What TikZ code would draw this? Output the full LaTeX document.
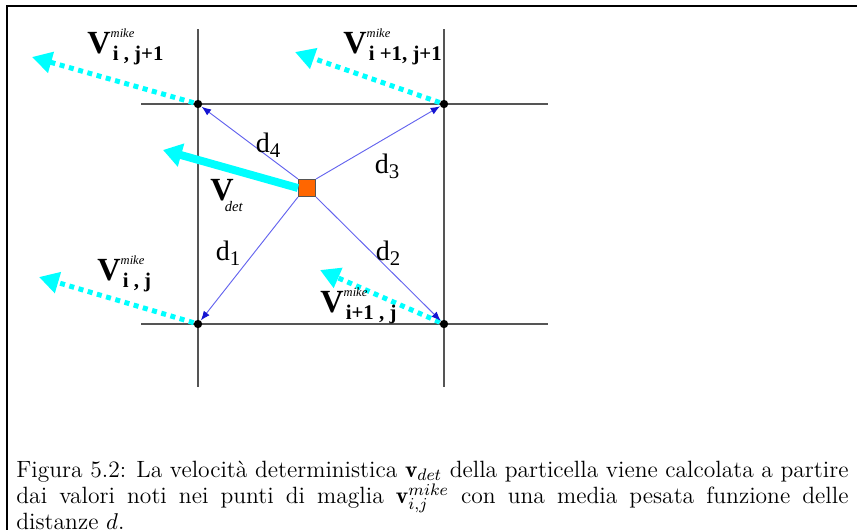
\documentclass[tikz,border=0pt]{standalone}
\usepackage{fontspec}
\newfontfamily\lblfont{Liberation Serif}
\usetikzlibrary{arrows.meta}
\definecolor{vcyan}{HTML}{00FFFF}
\definecolor{dblue}{HTML}{6464EE}
\definecolor{tipblue}{HTML}{1414D2}
\definecolor{partorange}{HTML}{FF6600}
\definecolor{gridgray}{HTML}{555555}
\newcommand{\vmk}[1]{{\fontsize{15.5}{15.5}\selectfont\bfseries V}\rlap{\raisebox{7.4pt}{\fontsize{6}{6}\selectfont\itshape mike}}\kern1pt\raisebox{-3.8pt}{\fontsize{10}{10}\selectfont\bfseries #1}}
\newcommand{\dlbl}[1]{{\fontsize{13.5}{13.5}\selectfont d}\raisebox{-2.5pt}{\fontsize{10}{10}\selectfont #1}}
\tikzset{
  gridline/.style={draw=gridgray, line width=0.7pt},
  meshpt/.style={circle, fill=black, inner sep=0pt, minimum size=4pt},
  distarr/.style={-{Latex[length=4.5pt,width=3.5pt,color=tipblue]}, draw=dblue, line width=0.45pt},
  mikearr/.style={-{Triangle[length=9.5pt,width=10pt]}, draw=vcyan, line width=2.4pt,
                  dash pattern=on 2.4pt off 2.2pt},
  detarr/.style={-{Triangle[length=9pt,width=11pt]}, draw=vcyan, line width=3.8pt},
  lbl/.style={inner sep=0pt, anchor=base west, font=\lblfont},
}
\begin{document}
\begin{tikzpicture}[x=0.48pt, y=-0.48pt]
  \useasboundingbox (0,0) rectangle (857,530);
  \clip (0,0) rectangle (857,530);
  % cornice della figura
  \draw[line width=0.8pt] (857,6) -- (7,6) -- (7,530);
  % maglia
  \draw[gridline] (198,29) -- (198,387);
  \draw[gridline] (444,29) -- (444,387);
  \draw[gridline] (141,104) -- (548,104);
  \draw[gridline] (141,324) -- (548,324);
  \node[meshpt] (g01) at (198,104) {};
  \node[meshpt] (g11) at (444,104) {};
  \node[meshpt] (g00) at (198,324) {};
  \node[meshpt] (g10) at (444,324) {};
  % particella
  \node[rectangle, fill=partorange, draw=gridgray, line width=0.5pt, minimum size=8.2pt, inner sep=0pt] (sq) at (307,188) {};
  % punte delle velocita
  \coordinate (t01) at (32,57);
  \coordinate (t11) at (295,52);
  \coordinate (t00) at (39,277);
  \coordinate (t10) at (320,270);
  \coordinate (tdet) at (163,150);
  \draw[mikearr] (g01) -- (t01);
  \draw[mikearr] (g11) -- (t11);
  \draw[mikearr] (g00) -- (t00);
  \draw[mikearr] (g10) -- (t10);
  \draw[detarr] (sq.west) -- (tdet);
  % distanze
  \draw[distarr] (sq.north west) -- (g01);
  \draw[distarr] (sq.north east) -- (g11);
  \draw[distarr] (sq.south west) -- (g00);
  \draw[distarr] (sq.south east) -- (g10);
  \node[lbl, anchor=center] (d4) at (268,145) {\dlbl{4}};
  \node[lbl, anchor=center] (d3) at (387,166) {\dlbl{3}};
  \node[lbl, anchor=center] (d1) at (228,253) {\dlbl{1}};
  \node[lbl, anchor=center] (d2) at (388,253) {\dlbl{2}};
  % etichette
  \node[lbl] (v01) at (87,53) {\vmk{i , j+1}};
  \node[lbl] (v11) at (343,53) {\vmk{i +1, j+1}};
  \node[lbl] (v00) at (97,280) {\vmk{i , j}};
  \node[lbl] (v10) at (320,312) {\vmk{i+1 , j}};
  \node[lbl] (vdet) at (210,200) {{\fontsize{15.5}{15.5}\selectfont\bfseries V}\kern-4.3pt\raisebox{-5.3pt}{\fontsize{7}{7}\selectfont\itshape det}};
  % didascalia
  \node[anchor=base west, inner sep=0pt, text width=399.4pt, align=justify, font=\fontsize{11.3}{12.7}\selectfont] (cap) at (16,477)
    {Figura 5.2: La velocità deterministica $\mathbf{v}_{det}$ della particella viene calcolata a partire\linebreak dai valori noti nei punti di maglia $\mathbf{v}^{mike}_{i,j}$ con una media pesata funzione delle\linebreak distanze $d$.};
\end{tikzpicture}
\end{document}
